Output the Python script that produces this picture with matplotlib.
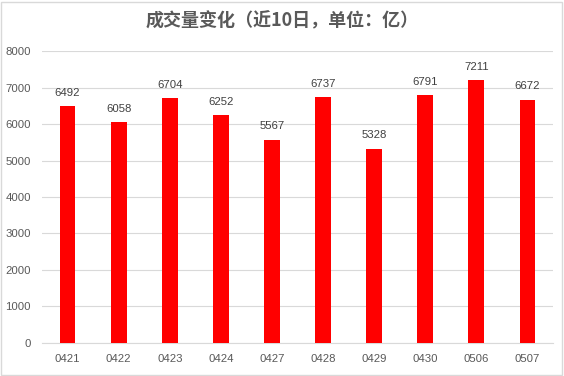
import matplotlib.pyplot as plt
import matplotlib.patches as patches

plt.rcParams['font.family'] = ['Noto Sans CJK SC', 'DejaVu Sans']

dates = ['0421', '0422', '0423', '0424', '0427', '0428', '0429', '0430', '0506', '0507']
volumes = [6492, 6058, 6704, 6252, 5567, 6737, 5328, 6791, 7211, 6672]
yticks = [0, 1000, 2000, 3000, 4000, 5000, 6000, 7000, 8000]

TITLE = '成交量变化（近10日，单位：亿）'
GRAY = '#595959'


def main() -> None:
    fig = plt.figure(figsize=(5.64, 3.76), dpi=100)
    ax = fig.add_axes([0.0745, 0.088, 0.906, 0.776])

    x = range(len(dates))
    ax.bar(x, volumes, width=0.31, color='#ff0000', zorder=3)
    for i, v in enumerate(volumes):
        ax.text(i, v + 230, str(v), ha='center', va='bottom', fontsize=8.2,
                color='#404040', family=['Liberation Sans', 'DejaVu Sans'])

    ax.set_xlim(-0.5, len(dates) - 0.5)
    ax.set_ylim(0, 8000)
    ax.set_yticks(yticks)
    ax.set_xticks(list(x))
    ax.set_xticklabels(dates)
    ax.grid(axis='y', color='#d9d9d9', linewidth=0.8, zorder=0)
    for s in ['top', 'right', 'left']:
        ax.spines[s].set_visible(False)
    ax.spines['bottom'].set_color('#d9d9d9')
    ax.tick_params(axis='both', length=0, labelsize=8.2, labelcolor=GRAY, pad=8)
    for lab in ax.get_xticklabels() + ax.get_yticklabels():
        lab.set_family(['Liberation Sans', 'DejaVu Sans'])

    fig.text(0.5, 0.945, TITLE, ha='center', va='center', fontsize=13,
             fontweight='bold', color=GRAY)

    border = patches.Rectangle((0.002, 0.003), 0.995, 0.993, transform=fig.transFigure,
                               fill=False, edgecolor='#d9d9d9', linewidth=1)
    fig.patches.append(border)

    plt.savefig('out.png', dpi=100)
    plt.close()


if __name__ == '__main__':
    main()
